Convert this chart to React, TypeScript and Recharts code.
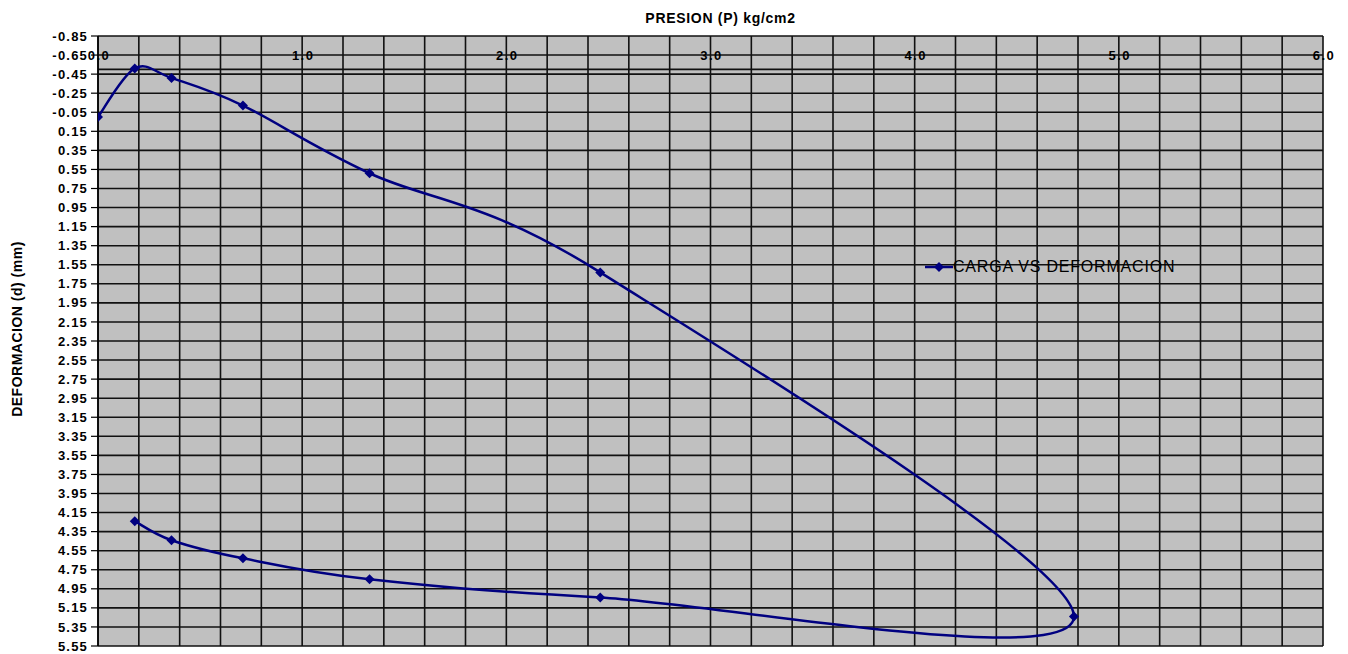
import React from "react";
import {
  LineChart,
  Line,
  XAxis,
  YAxis,
  CartesianGrid,
  ReferenceLine,
  Legend,
  Label,
} from "recharts";

// lectura del ensayo: carga y luego descarga
const presion = [0, 0.18, 0.36, 0.71, 1.33, 2.46, 4.78, 2.46, 1.33, 0.71, 0.36, 0.18];
const deformacion = [0.0, -0.51, -0.41, -0.12, 0.59, 1.63, 5.24, 5.04, 4.85, 4.63, 4.44, 4.24];

const xTicks = [
  0, 0.2, 0.4, 0.6, 0.8, 1, 1.2, 1.4, 1.6, 1.8, 2, 2.2, 2.4, 2.6, 2.8, 3, 3.2, 3.4,
  3.6, 3.8, 4, 4.2, 4.4, 4.6, 4.8, 5, 5.2, 5.4, 5.6, 5.8, 6,
];
const yTicks = [
  -0.85, -0.65, -0.45, -0.25, -0.05, 0.15, 0.35, 0.55, 0.75, 0.95, 1.15, 1.35, 1.55,
  1.75, 1.95, 2.15, 2.35, 2.55, 2.75, 2.95, 3.15, 3.35, 3.55, 3.75, 3.95, 4.15, 4.35,
  4.55, 4.75, 4.95, 5.15, 5.35, 5.55,
];

const seriesName = "CARGA VS DEFORMACION";
const data = presion.map((p, i) => ({ p, d: deformacion[i] }));

const FONT = '"Liberation Sans", Arial, sans-serif';
const NAVY = "#000080";
const PLOT_TOP = 36;

// suavizado tipo Excel (bezier con tangentes de Catmull-Rom / 6)
function excelSmooth(context: any) {
  let pts: [number, number][] = [];
  return {
    areaStart() {},
    areaEnd() {},
    lineStart() {
      pts = [];
    },
    lineEnd() {
      const n = pts.length;
      if (!n) return;
      context.moveTo(pts[0][0], pts[0][1]);
      for (let i = 0; i < n - 1; i++) {
        const p0 = pts[Math.max(i - 1, 0)];
        const p1 = pts[i];
        const p2 = pts[i + 1];
        const p3 = pts[Math.min(i + 2, n - 1)];
        context.bezierCurveTo(
          p1[0] + (p2[0] - p0[0]) / 6,
          p1[1] + (p2[1] - p0[1]) / 6,
          p2[0] - (p3[0] - p1[0]) / 6,
          p2[1] - (p3[1] - p1[1]) / 6,
          p2[0],
          p2[1]
        );
      }
    },
    point(x: number, y: number) {
      pts.push([x, y]);
    },
  };
}

const Diamond = (props: any) => {
  const { cx, cy } = props;
  if (cx == null || cy == null) return null;
  const r = 5;
  return (
    <polygon
      points={`${cx},${cy - r} ${cx + r},${cy} ${cx},${cy + r} ${cx - r},${cy}`}
      fill={NAVY}
    />
  );
};

const XTick = (props: any) => {
  const { x, payload } = props;
  const v = Number(payload.value);
  if (Math.abs(v - Math.round(v)) > 1e-6) return <g />;
  return (
    <text
      x={x + 1}
      y={PLOT_TOP + 24}
      textAnchor="middle"
      fontFamily={FONT}
      fontSize={13}
      fontWeight="bold"
      letterSpacing={1.5}
      fill="#000"
    >
      {v.toFixed(1)}
    </text>
  );
};

const XTitle = (props: any) => {
  const vb = props.viewBox || { x: 0, width: 0 };
  return (
    <text
      x={vb.x + vb.width / 2 + 10}
      y={23}
      textAnchor="middle"
      fontFamily={FONT}
      fontSize={14}
      fontWeight="bold"
      letterSpacing={0.7}
      fill="#000"
    >
      PRESION (P) kg/cm2
    </text>
  );
};

const YTitle = (props: any) => {
  const vb = props.viewBox || { x: 0, y: 0, height: 0 };
  const cx = vb.x + 17;
  const cy = vb.y + vb.height / 2 - 12;
  return (
    <text
      x={cx}
      y={cy}
      transform={`rotate(-90, ${cx}, ${cy})`}
      textAnchor="middle"
      dominantBaseline="central"
      fontFamily={FONT}
      fontSize={14}
      fontWeight="bold"
      letterSpacing={0.5}
      fill="#000"
    >
      DEFORMACION (d) (mm)
    </text>
  );
};

const LegendBox = () => (
  <div style={{ display: "flex", alignItems: "center", fontFamily: FONT }}>
    <svg width={28} height={12}>
      <line x1={0} y1={6} x2={28} y2={6} stroke={NAVY} strokeWidth={2.5} />
      <polygon points="14,1 19,6 14,11 9,6" fill={NAVY} />
    </svg>
    <span style={{ fontSize: 16, letterSpacing: 0.8, color: "#000" }}>{seriesName}</span>
  </div>
);

export default function App() {
  return (
    <div style={{ position: "absolute", left: 0, top: 0, background: "#fff" }}>
      <LineChart
        width={1348}
        height={654}
        data={data}
        margin={{ top: PLOT_TOP - 1, right: 25, bottom: 8, left: 0 }}
      >
        <CartesianGrid
          stroke="#111"
          strokeWidth={1.6}
          fill="#c0c0c0"
          fillOpacity={1}
        />
        <XAxis
          type="number"
          dataKey="p"
          orientation="top"
          domain={[0, 6]}
          ticks={xTicks}
          interval={0}
          height={1}
          axisLine={false}
          tickLine={false}
          tick={<XTick />}
          allowDataOverflow
        >
          <Label content={<XTitle />} />
        </XAxis>
        <YAxis
          type="number"
          dataKey="d"
          reversed
          domain={[-0.85, 5.55]}
          ticks={yTicks}
          interval={0}
          width={98}
          allowDataOverflow
          axisLine={{ stroke: "#000", strokeWidth: 1.5 }}
          tickLine={{ stroke: "#000", strokeWidth: 1.2 }}
          tickSize={7}
          tickMargin={3}
          tickFormatter={(v: number) => v.toFixed(2)}
          tick={{
            fontFamily: FONT,
            fontSize: 13,
            fontWeight: "bold",
            fill: "#000",
            letterSpacing: 1.2,
          }}
        >
          <Label content={<YTitle />} />
        </YAxis>
        <ReferenceLine y={-0.5} stroke="#111" strokeWidth={1.6} />
        <Legend
          layout="horizontal"
          align="center"
          verticalAlign="middle"
          wrapperStyle={{ position: "absolute", left: 925, top: 258, width: "auto" }}
          content={<LegendBox />}
        />
        <Line
          type={excelSmooth as any}
          dataKey="d"
          name={seriesName}
          stroke={NAVY}
          strokeWidth={2.5}
          dot={<Diamond />}
          activeDot={false}
          isAnimationActive={false}
        />
      </LineChart>
    </div>
  );
}
